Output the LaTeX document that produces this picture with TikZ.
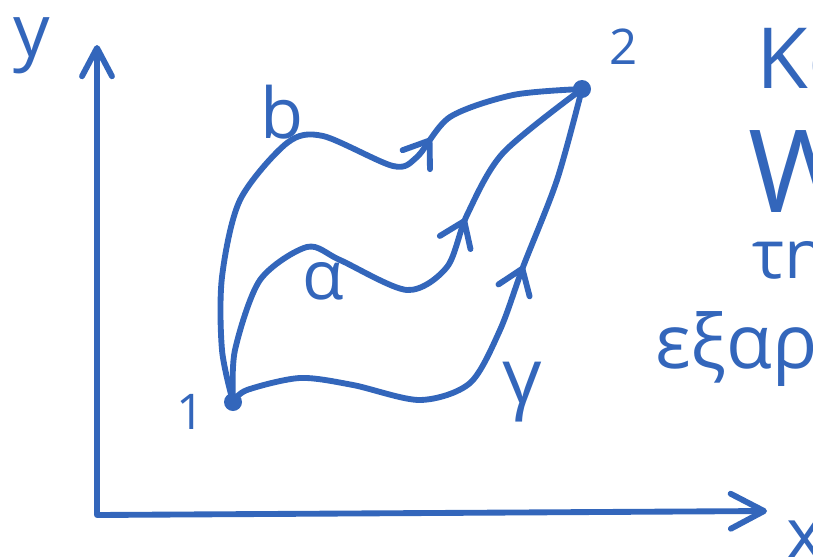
\documentclass[tikz,border=0pt]{standalone}
\usepackage{fontspec}
\setmainfont{Open Sans}
\usetikzlibrary{arrows.meta,decorations.markings}
\definecolor{colInk}{HTML}{3366BB}
\tikzset{
  ink/.style={draw=colInk, line width=5pt, line cap=round, line join=round},
  axis/.style={ink, {Straight Barb[length=8.5mm,width=9mm,round]}-{Straight Barb[length=10mm,width=10.5mm,round]}},
  curve/.style={ink, postaction={decorate},
    decoration={markings, mark=at position #1 with {\arrow{Straight Barb[length=7mm,width=10mm,round]}}}},
  dot/.style={circle, fill=colInk, inner sep=0pt, minimum size=5.4mm},
  lbl/.style={text=colInk, inner sep=0pt, font=\fontsize{#1}{#1}\selectfont},
  side/.style={lbl=#1, anchor=base west}
}
\begin{document}
\begin{tikzpicture}[x=0.03cm, y=-0.03cm]
  \useasboundingbox (0,0) rectangle (813,556);
  \clip (0,0) rectangle (813,556);

  % axes
  \coordinate (O) at (97,515);
  \coordinate (ytip) at (97,45);
  \coordinate (xtip) at (767,511);
  \draw[axis] (ytip) -- (O) -- (xtip);
  \node[lbl=62] (ylbl) at (32,46) {y};
  \node[lbl=60] (xlbl) at (805,540) {x};

  % end points
  \node[dot] (p1) at (233,402) {};
  \node[dot] (p2) at (582,89) {};
  \node[lbl=42] (n1) at (191,412) {1};
  \node[lbl=42] (n2) at (624,47) {2};

  % three paths from 1 to 2
  \draw[curve=0.73] plot[smooth] coordinates {(p1.center) (222,350) (222,277) (240,200) (287,143)
    (323,136) (393,166) (417,157) (450,117) (513,95) (p2.center)};
  \draw[curve=0.69] plot[smooth] coordinates {(p1.center) (235,350) (260,280) (307,247) (340,260)
    (407,290) (447,267) (467,215) (503,153) (p2.center)};
  \draw[curve=0.67] plot[smooth] coordinates {(p1.center) (247,390) (300,378) (353,385) (420,400)
    (470,383) (500,330) (523,267) (557,180) (p2.center)};
  \node[lbl=60] (blbl) at (282,112) {b};
  \node[lbl=58] (albl) at (323,281) {α};
  \node[lbl=66] (glbl) at (522,392) {γ};

  % notes on the right
  \node[side=72] (t1) at (756,88) {Κα};
  \node[side=98] (t2) at (748,212) {W};
  \node[side=58] (t3) at (752,278) {τη};
  \node[side=64] (t4) at (655,368) {εξαρτ};
\end{tikzpicture}
\end{document}
